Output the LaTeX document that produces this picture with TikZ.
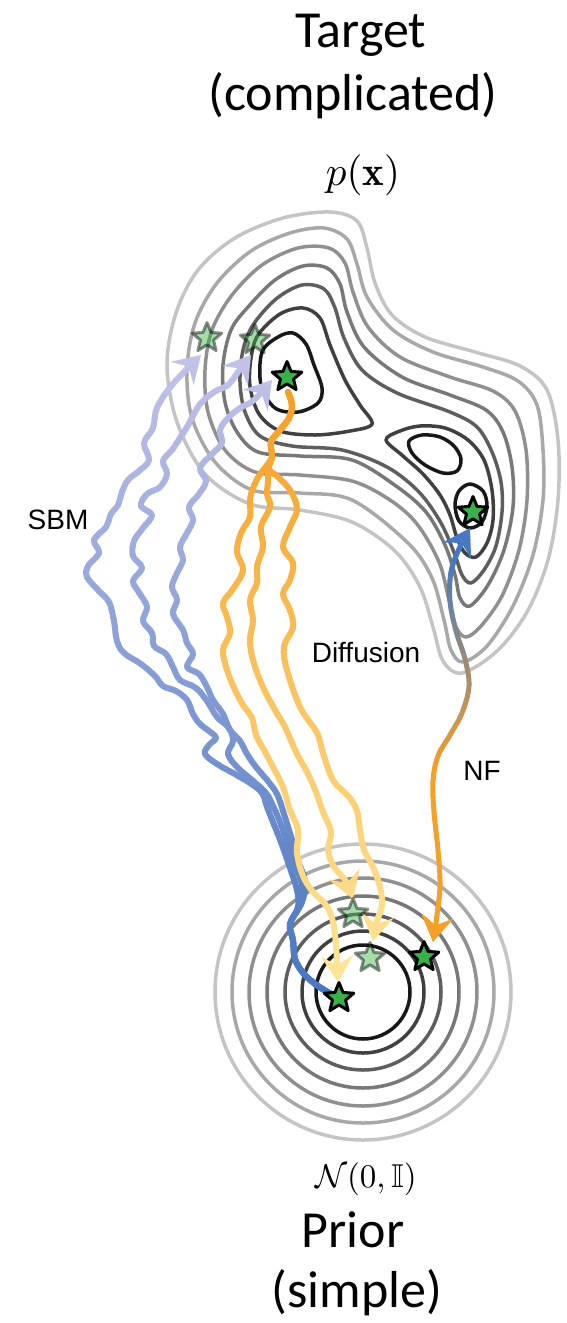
\documentclass[tikz,border=0pt]{standalone}
\usepackage{fontspec}
\usepackage{amssymb}
\usetikzlibrary{arrows.meta,shapes.geometric}
\newfontfamily\carlito{Carlito}
\newfontfamily\lsans{Liberation Sans}
\definecolor{cA}{HTML}{C4C4C4}
\definecolor{cB}{HTML}{A8A8A8}
\definecolor{cC}{HTML}{909090}
\definecolor{cD}{HTML}{787878}
\definecolor{cE}{HTML}{5E5E5E}
\definecolor{cF}{HTML}{404040}
\definecolor{cG}{HTML}{181818}
\definecolor{stargreen}{RGB}{58,176,72}
\definecolor{sbmtop}{RGB}{194,194,232}
\definecolor{sbmbot}{RGB}{72,118,192}
\definecolor{difftop}{RGB}{247,160,40}
\definecolor{diffbot}{RGB}{253,228,150}
\definecolor{nfblue}{RGB}{70,120,195}
\definecolor{nforange}{RGB}{245,160,40}
\tikzset{
  contour/.style={line width=3.5pt, line join=round},
  lvA/.style={contour, draw=cA},
  lvB/.style={contour, draw=cB},
  lvC/.style={contour, draw=cC},
  lvD/.style={contour, draw=cD},
  lvE/.style={contour, draw=cE},
  lvF/.style={contour, draw=cF},
  lvG/.style={contour, draw=cG},
  darkstar/.style={star, star points=5, star point ratio=2.25, minimum size=31pt,
    inner sep=0pt, fill=stargreen, draw=black, line width=3pt, line join=round},
  fadestar/.style={darkstar, opacity=0.45},
  walk/.style={line width=6pt, line cap=round, line join=round,
    -{Stealth[length=26pt,width=32pt,inset=9pt]}},
  nfwalk/.style={line width=5pt, line join=round,
    {Stealth[length=26pt,width=32pt,inset=9pt]}-{Stealth[length=26pt,width=32pt,inset=9pt]}},
  title/.style={font=\carlito\fontsize{52}{62}\selectfont, inner sep=0pt, anchor=base},
  lab/.style={font=\lsans\fontsize{28}{32}\selectfont, inner sep=0pt}
}
% #1 path, #2 band top, #3 band bottom, #4 colour y top, #5 colour y bottom,
% #6 top colour, #7 bottom colour, #8 options
\newcommand\gradpath[8]{%
  \pgfmathtruncatemacro\nbands{((#3)-(#2))/8}%
  \foreach \k in {0,...,\nbands}{%
    \pgfmathsetmacro\ya{(#2)+8*\k}%
    \pgfmathsetmacro\yb{\ya+8.8}%
    \pgfmathsetmacro\fr{(\ya+4-(#4))/((#5)-(#4))}%
    \pgfmathtruncatemacro\pc{max(0,min(100,100*\fr))}%
    \begin{scope}
      \clip (-20,\ya) rectangle (600,\yb);
      \draw[#8, draw=#7!\pc!#6] #1;
    \end{scope}
  }%
}
\def\pathSa{plot[smooth, tension=0.6] coordinates {(333,995) (318,986) (304,974) (295,959) (293,940) (290,924) (298,907) (297,890) (290,868) (282,845) (273,822) (267,807) (262,793) (250,783) (233,773) (217,764) (205,754) (209,745) (216,738) (209,731) (200,724) (193,714) (187,700) (176,691) (163,686) (155,676) (141,664) (124,653) (117,641) (114,621) (109,602) (98,590) (87,577) (88,566) (99,553) (94,540) (106,527) (111,514) (118,505) (122,492) (128,480) (139,471) (149,460) (144,443) (153,428) (157,408) (172,385) (201,355)}}
\def\pathSb{plot[smooth, tension=0.6] coordinates {(333,995) (318,986) (304,974) (295,959) (293,940) (290,924) (300,905) (302,885) (295,865) (288,845) (280,822) (273,806) (266,793) (252,780) (238,768) (228,754) (233,741) (229,728) (217,717) (207,701) (196,688) (180,680) (173,667) (166,654) (154,646) (152,633) (143,621) (147,607) (140,594) (133,581) (142,568) (133,556) (134,541) (143,528) (152,515) (141,506) (147,494) (160,487) (167,474) (163,461) (172,450) (180,438) (187,427) (194,414) (201,403) (214,392) (228,385) (238,372) (251,355)}}
\def\pathSc{plot[smooth, tension=0.6] coordinates {(333,995) (318,986) (304,974) (295,959) (293,940) (290,924) (302,902) (305,881) (298,861) (292,840) (284,814) (277,794) (267,780) (256,767) (247,754) (240,741) (230,730) (223,714) (213,700) (207,687) (199,674) (187,667) (193,654) (187,643) (183,630) (173,614) (177,600) (172,587) (177,573) (183,560) (180,547) (187,533) (193,520) (189,507) (199,494) (206,481) (200,468) (212,454) (222,443) (220,430) (228,418) (240,408) (254,400) (272,380)}}
\def\pathDa{plot[smooth, tension=0.6] coordinates {(288,392) (292,405) (289,418) (280,430) (271,442) (272,457) (264,469) (256,481) (250,499) (250,517) (241,533) (237,552) (243,570) (233,589) (223,603) (227,617) (230,633) (223,650) (227,670) (235,690) (243,705) (252,718) (256,735) (264,750) (273,767) (283,787) (290,810) (298,830) (297,853) (303,876) (313,892) (326,905) (333,922) (336,945) (338,982)}}
\def\pathDb{plot[smooth, tension=0.6] coordinates {(288,392) (292,405) (289,418) (280,430) (271,442) (272,457) (268,470) (268,482) (267,494) (270,507) (261,527) (263,547) (257,566) (257,583) (250,600) (253,620) (250,640) (253,660) (262,685) (275,710) (285,727) (296,752) (307,772) (316,792) (323,812) (331,832) (328,850) (334,867) (345,880) (353,899)}}
\def\pathDc{plot[smooth, tension=0.6] coordinates {(288,392) (292,405) (289,418) (280,430) (271,442) (272,457) (268,468) (278,477) (290,490) (297,509) (290,527) (283,547) (293,563) (290,580) (283,594) (290,610) (293,627) (284,647) (287,670) (300,707) (317,733) (323,753) (333,780) (349,797) (357,811) (360,830) (364,850) (373,867) (380,887) (382,905) (377,921) (373,941)}}
\def\pathNF{plot[smooth, tension=0.6] coordinates {(433,942) (437,915) (440,885) (438,850) (434,812) (433,781) (438,756) (450,735) (462,713) (469,686) (465,659) (456,631) (450,601) (451,572) (459,549) (470,528)}}
\begin{document}
\begin{tikzpicture}[x={(1pt,0)}, y={(0,-1pt)}]
\useasboundingbox (0,0) rectangle (567,1323);
% titles
\node[title] (t1) at (361,47) {Target};
\node[title] (t2) at (353,110) {(complicated)};
\node[scale=4.1, anchor=base, inner sep=0pt] (px) at (363,185) {$p(\mathbf{x})$};
\node[scale=3.3, anchor=base, inner sep=0pt] (nx) at (366,1187) {$\mathcal{N}(0,\mathbb{I})$};
\node[title] (t3) at (353,1247) {Prior};
\node[title] (t4) at (357,1307) {(simple)};
% target contours
\draw[lvA] plot[smooth cycle, tension=0.55] coordinates {(198,270) (235,238) (283,218) (330,212) (357,221) (367,248) (375,283) (392,315) (425,337) (475,352) (520,366) (547,390) (558,440) (558,500) (548,560) (527,612) (497,651) (462,673) (443,661) (433,627) (420,587) (395,551) (352,522) (300,510) (250,504) (205,474) (177,422) (167,365) (176,313)};
\draw[lvB] plot[smooth cycle, tension=0.55] coordinates {(217,283) (251,251) (290,233) (324,228) (347,239) (357,264) (367,297) (393,330) (433,352) (483,367) (518,381) (537,405) (543,450) (543,500) (533,555) (513,606) (487,646) (463,662) (451,650) (444,620) (432,578) (408,543) (352,500) (300,493) (252,490) (215,462) (192,418) (187,370) (195,323)};
\draw[lvC] plot[smooth cycle, tension=0.55] coordinates {(232,295) (262,265) (298,248) (329,248) (345,263) (353,292) (368,327) (400,357) (450,377) (493,391) (515,411) (526,450) (527,500) (519,550) (502,596) (481,626) (466,637) (456,627) (449,600) (439,562) (417,524) (390,500) (352,481) (300,475) (255,472) (225,450) (208,412) (205,370) (212,330)};
\draw[lvD] plot[smooth cycle, tension=0.55] coordinates {(248,307) (275,280) (303,266) (327,268) (340,284) (347,312) (364,347) (402,377) (450,395) (486,410) (503,432) (512,467) (513,507) (504,550) (488,585) (470,606) (460,598) (455,575) (445,545) (426,512) (396,486) (352,460) (300,456) (258,452) (237,432) (225,402) (223,365) (231,330)};
\draw[lvE] plot[smooth cycle, tension=0.55] coordinates {(253,325) (276,299) (302,285) (324,289) (335,308) (344,338) (362,370) (397,393) (450,412) (477,427) (492,452) (501,482) (502,512) (496,546) (484,570) (471,583) (462,575) (455,555) (441,523) (419,492) (387,467) (342,450) (292,446) (260,436) (245,412) (240,382) (243,350)};
\draw[lvF] plot[smooth cycle, tension=0.55] coordinates {(258,335) (280,314) (303,308) (320,318) (330,345) (345,380) (360,405) (372,424) (350,431) (315,435) (280,431) (259,414) (250,386) (251,358)};
\draw[lvF] plot[smooth cycle, tension=0.55] coordinates {(386,440) (400,431) (420,426) (445,428) (468,440) (484,460) (492,490) (493,520) (487,543) (476,557) (465,553) (457,538) (450,515) (440,495) (423,474) (403,456)};
\draw[lvG] plot[smooth cycle, tension=0.55] coordinates {(262,352) (278,337) (293,333) (306,344) (314,365) (322,388) (318,403) (298,412) (275,408) (261,385)};
\draw[lvG] plot[smooth cycle, tension=0.55] coordinates {(409,441) (422,435) (440,437) (454,446) (461,459) (457,471) (443,473) (425,465) (412,453)};
\draw[lvG] plot[smooth cycle, tension=0.55] coordinates {(470,484) (483,491) (487,506) (482,522) (470,528) (459,521) (455,505) (459,491)};
% prior contours
\coordinate (pc) at (363,992);
\draw[lvA] (pc) circle[radius=148pt];
\draw[lvB] (pc) circle[radius=131pt];
\draw[lvC] (pc) circle[radius=114pt];
\draw[lvD] (pc) circle[radius=96pt];
\draw[lvE] (pc) circle[radius=78pt];
\draw[lvF] (pc) circle[radius=61pt];
\draw[lvG] (pc) circle[radius=47pt];
% SBM walks
\gradpath{\pathSa}{330}{1010}{360}{990}{sbmtop}{sbmbot}{walk}
\gradpath{\pathSb}{330}{1010}{360}{990}{sbmtop}{sbmbot}{walk}
\gradpath{\pathSc}{330}{1010}{360}{990}{sbmtop}{sbmbot}{walk}
% diffusion walks
\gradpath{\pathDa}{380}{1000}{400}{960}{difftop}{diffbot}{walk}
\gradpath{\pathDb}{380}{1000}{400}{960}{difftop}{diffbot}{walk}
\gradpath{\pathDc}{380}{1000}{400}{960}{difftop}{diffbot}{walk}
% NF
\gradpath{\pathNF}{500}{960}{560}{770}{nfblue}{nforange}{nfwalk}
% labels
\node[lab] (sbm) at (58,520) {SBM};
\node[lab] (dif) at (366,652) {Diffusion};
\node[lab] (nf) at (482,771) {NF};
% stars
\node[fadestar] (sf1) at (207,338) {};
\node[fadestar] (sf2) at (255,340) {};
\node[darkstar] (sA) at (287,377) {};
\node[darkstar] (sC) at (473,512) {};
\node[fadestar] (pf1) at (353,914) {};
\node[fadestar] (pf2) at (370,958) {};
\node[darkstar] (p1) at (339,998) {};
\node[darkstar] (p2) at (424,957) {};
\end{tikzpicture}
\end{document}
